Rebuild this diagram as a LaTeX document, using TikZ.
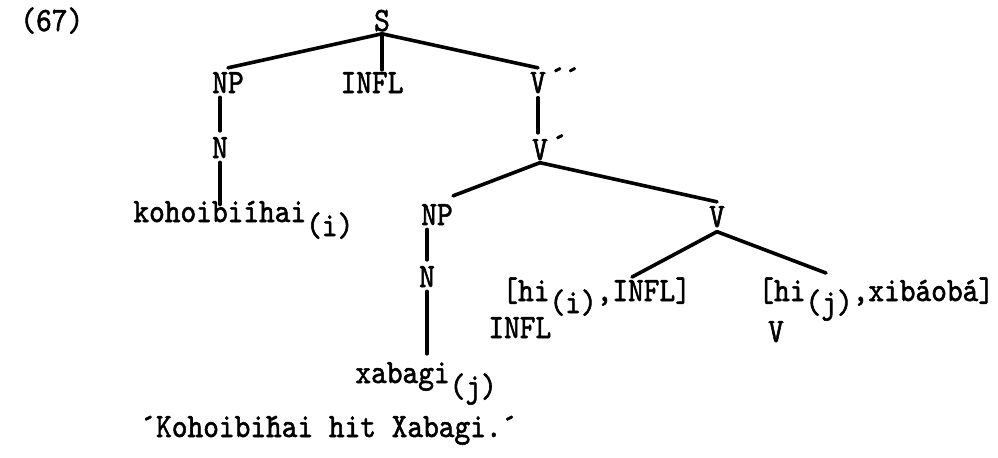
\documentclass[tikz,border=0pt]{standalone}
\usepackage{fontspec}
\newfontfamily\tw{lmmono10-regular.otf}[FakeBold=1.6, FakeStretch=0.88]
\newcommand{\prm}[1]{\smash{\rlap{\kern2pt\raisebox{0.3ex}{#1}}}}
\begin{document}
\begin{tikzpicture}[x=0.5pt,y=-0.5pt,
  every node/.style={inner sep=0pt, font=\tw\fontsize{17}{19}\selectfont},
  br/.style={line width=1.8pt, line cap=round}]
\useasboundingbox (0,0) rectangle (998,457);
\node[anchor=base west] (ex) at (20,31) {(67)};
\node[anchor=base] (S) at (382,31) {S};
\node[anchor=base] (NP1) at (228,93) {NP};
\node[anchor=base] (INFL) at (372,93) {INFL};
\node[anchor=base] (V2) at (538,93) {V\prm{´\kern-0.5pt´}};
\node[anchor=base] (N1) at (220,158) {N};
\node[anchor=base] (V1) at (540,160) {V\prm{´}};
\node[anchor=base west] (koho) at (133,222) {kohoibiíhai\raisebox{-7pt}{(i)}};
\node[anchor=base] (NP2) at (437,225) {NP};
\node[anchor=base] (N2) at (427,287) {N};
\node[anchor=base west] (xab) at (355,383) {xabagi\raisebox{-7pt}{(j)}};
\node[anchor=base] (V0) at (717,227) {V};
\node[anchor=base west] (b1) at (502,301) {[hi\raisebox{-6pt}{(i)},INFL]};
\node[anchor=base west] (l1) at (488,338) {INFL};
\node[anchor=base west] (b2) at (758,301) {[hi\raisebox{-6pt}{(j)},xibáobá]};
\node[anchor=base] (l2) at (776,342) {V};
\node[anchor=base west] (gl) at (140,437) {´Kohoibi\'hai hit Xabagi.´};
\coordinate (c1) at (632,277);
\coordinate (c2) at (826,273);
\draw[br] ([yshift=-1pt]S.south) -- ([yshift=2pt]NP1.north);
\draw[br] ([yshift=-1pt]S.south) -- ([yshift=1pt]S.south |- INFL.north);
\draw[br] ([yshift=-1pt]S.south) -- ([yshift=2pt]V2.north);
\draw[br] ([yshift=-2pt]NP1.south -| N1) -- ([yshift=3pt]N1.north);
\draw[br] ([yshift=-2pt]N1.south) -- ([yshift=-2pt]N1.south |- koho.north);
\draw[br] ([yshift=-2pt]V2.south) -- ([yshift=3pt]V2.south |- V1.north);
\draw[br] ([yshift=-1pt]V1.south) -- ([yshift=4pt]NP2.north east);
\draw[br] ([yshift=-1pt]V1.south) -- ([yshift=2pt]V0.north);
\draw[br] ([yshift=-2pt]V0.south) -- (c1);
\draw[br] ([yshift=-2pt]V0.south) -- (c2);
\draw[br] ([yshift=-2pt]NP2.south -| N2) -- ([yshift=3pt]N2.north);
\draw[br] ([yshift=-2pt]N2.south) -- ([yshift=4pt]N2.south |- xab.north);
\end{tikzpicture}
\end{document}
